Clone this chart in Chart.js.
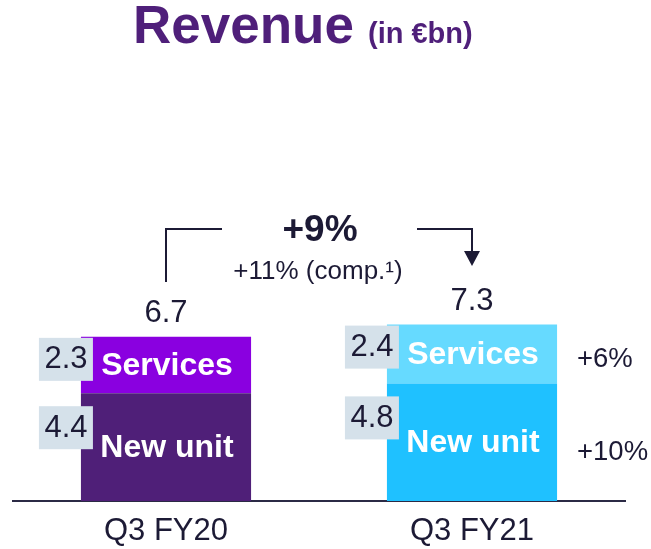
<!DOCTYPE html>
<html>
<head>
<meta charset="utf-8">
<script src="https://cdn.jsdelivr.net/npm/chart.js@4/dist/chart.umd.min.js"></script>
<style>
  html, body { margin: 0; padding: 0; background: #ffffff; }
  canvas { display: block; }
</style>
</head>
<body>
<canvas id="revenueChart" width="651" height="549"></canvas>
<script>
// values (in EUR bn)
const categories = ["Q3 FY20", "Q3 FY21"];
const newUnit = [4.4, 4.8];
const services = [2.3, 2.4];
const totals = ["6.7", "7.3"];
const segmentGrowth = { services: "+6%", newUnit: "+10%" };
const headline = "+9%";
const subline = "+11% (comp.\u00B9)";

const FONT = "'Liberation Sans', Arial, sans-serif";
const DARK = "#1c1a35";

const annotations = {
  id: "annotations",
  afterDatasetsDraw(chart) {
    const ctx = chart.ctx;
    const nu = chart.getDatasetMeta(0).data;
    const sv = chart.getDatasetMeta(1).data;
    ctx.save();

    // title
    ctx.fillStyle = "#4f1f7a";
    ctx.textBaseline = "alphabetic";
    ctx.textAlign = "left";
    ctx.font = "bold 53px " + FONT;
    ctx.fillText("Revenue", 133, 43);
    ctx.font = "bold 29px " + FONT;
    ctx.fillText("(in \u20ACbn)", 368, 43);

    ctx.textBaseline = "middle";
    ctx.textAlign = "center";

    for (let i = 0; i < categories.length; i++) {
      const left = nu[i].x - nu[i].width / 2;

      // labels inside bar segments
      ctx.fillStyle = "#ffffff";
      ctx.font = "bold 32px " + FONT;
      ctx.fillText("Services", sv[i].x + 1, (sv[i].y + sv[i].base) / 2 + 1);
      ctx.fillText("New unit", nu[i].x + 1, (nu[i].y + nu[i].base) / 2 + 1);

      // value boxes
      ctx.fillStyle = "#d5e1ea";
      ctx.fillRect(left - 42, sv[i].y + 1, 54, 43);
      ctx.fillRect(left - 42, nu[i].y + 13, 54, 43);
      ctx.fillStyle = DARK;
      ctx.font = "31px " + FONT;
      ctx.fillText(services[i].toFixed(1), left - 15, sv[i].y + 23);
      ctx.fillText(newUnit[i].toFixed(1), left - 15, nu[i].y + 35);

      // totals
      ctx.fillText(totals[i], sv[i].x, sv[i].y - 23);
    }

    // growth per segment, right of second bar
    ctx.textAlign = "left";
    ctx.font = "27.5px " + FONT;
    ctx.fillText(segmentGrowth.services, 577, (sv[1].y + sv[1].base) / 2 + 5);
    ctx.fillText(segmentGrowth.newUnit, 577, (nu[1].y + nu[1].base) / 2 + 10);

    // bracket with arrow
    const x0 = nu[0].x, x1 = nu[1].x, yTop = 229;
    ctx.strokeStyle = DARK;
    ctx.lineWidth = 2;
    ctx.beginPath();
    ctx.moveTo(x0, 282);
    ctx.lineTo(x0, yTop);
    ctx.lineTo(x0 + 56, yTop);
    ctx.moveTo(x1 - 55, yTop);
    ctx.lineTo(x1, yTop);
    ctx.lineTo(x1, 252);
    ctx.stroke();
    ctx.fillStyle = DARK;
    ctx.beginPath();
    ctx.moveTo(x1 - 8, 251);
    ctx.lineTo(x1 + 8, 251);
    ctx.lineTo(x1, 266);
    ctx.closePath();
    ctx.fill();

    ctx.textAlign = "center";
    ctx.font = "bold 37px " + FONT;
    ctx.fillText(headline, 320, 231);
    ctx.font = "26px " + FONT;
    ctx.fillText(subline, 318, 272);

    ctx.restore();
  }
};

new Chart(document.getElementById("revenueChart"), {
  type: "bar",
  data: {
    labels: categories,
    datasets: [
      {
        label: "New unit",
        data: newUnit,
        backgroundColor: ["#4f1f78", "#1fc1ff"],
        borderWidth: 0,
      },
      {
        label: "Services",
        data: services,
        backgroundColor: ["#8a00e0", "#66daff"],
        borderWidth: 0,
      },
    ],
  },
  options: {
    responsive: false,
    animation: false,
    layout: { padding: { left: 13, right: 26, top: 256, bottom: 0 } },
    plugins: {
      legend: { display: false },
      tooltip: { enabled: false },
    },
    datasets: { bar: { categoryPercentage: 1, barPercentage: 0.556 } },
    scales: {
      x: {
        stacked: true,
        grid: { display: false, drawTicks: false },
        border: { display: true, color: "#2b2a45", width: 2 },
        ticks: {
          color: DARK,
          padding: 12,
          maxRotation: 0,
          autoSkip: false,
          font: { family: FONT, size: 31 },
        },
        afterFit(scale) { scale.height = 48; },
      },
      y: {
        stacked: true,
        display: false,
        min: 0,
        max: 10,
      },
    },
  },
  plugins: [annotations],
});
</script>
</body>
</html>
